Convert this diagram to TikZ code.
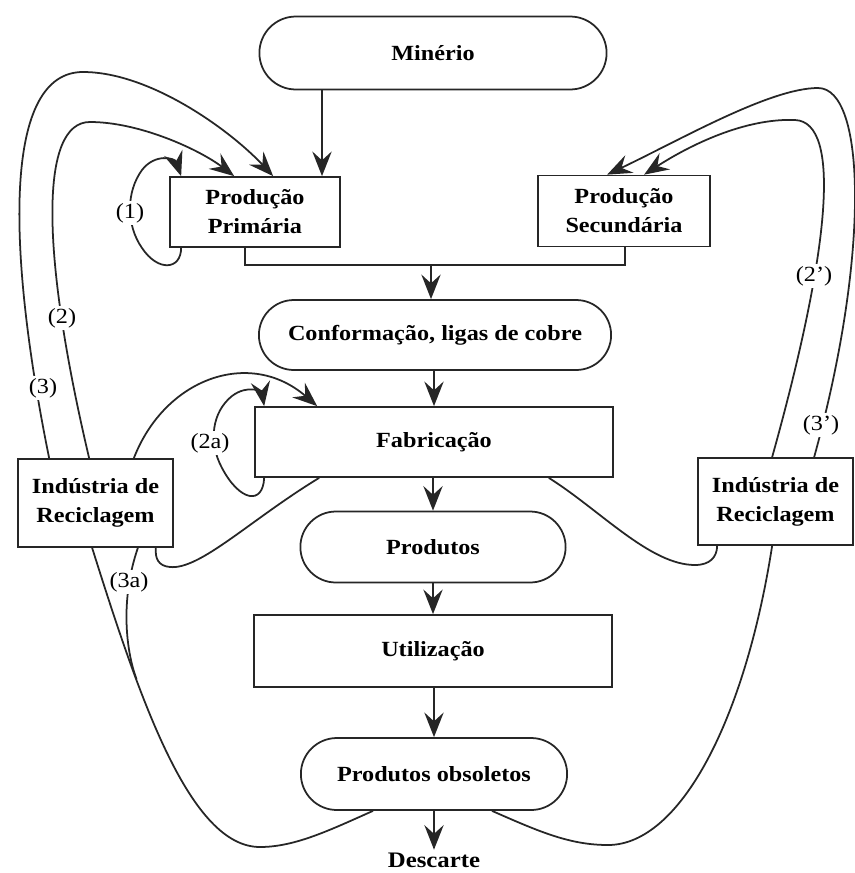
\documentclass[tikz,border=0pt]{standalone}
\usepackage{fontspec}
\setmainfont{Liberation Serif}[FakeStretch=1.12]
\usetikzlibrary{arrows.meta,shapes.misc,calc}
\begin{document}
\begin{tikzpicture}[x=0.02cm,y=-0.02cm,
  every node/.style={font=\fontsize{12.3}{16.5}\selectfont},
  box/.style={draw=black!85, line width=1pt, font=\fontsize{12.3}{16.5}\selectfont\bfseries, align=center},
  rbox/.style={box, rectangle},
  pill/.style={box, rounded rectangle},
  arr/.style={draw=black!85, line width=1pt, -{Stealth[length=14pt,width=11pt,inset=5pt]}},
  con/.style={draw=black!85, line width=1pt},
  lab/.style={fill=white, inner sep=1pt, font=\fontsize{12.3}{14}\selectfont}
]
\fill[white] (0,0) rectangle (855,873);
\useasboundingbox (0,0) rectangle (855,873);

% nodes
\node[pill, minimum width=7.18cm, minimum height=1.46cm] (min) at (433,53) {Minério};
\node[rbox, minimum width=3.4cm, minimum height=1.4cm] (pp) at (255,212) {Produção\\Primária};
\node[rbox, minimum width=3.44cm, minimum height=1.42cm] (ps) at (624,211) {Produção\\Secundária};
\node[pill, minimum width=7.28cm, minimum height=1.4cm] (conf) at (435,335) {Conformação, ligas de cobre};
\node[rbox, minimum width=7.16cm, minimum height=1.4cm] (fab) at (434,442) {Fabricação};
\node[pill, minimum width=5.54cm, minimum height=1.42cm] (prod) at (433,547) {Produtos};
\node[rbox, minimum width=7.16cm, minimum height=1.44cm] (util) at (433,651) {Utilização};
\node[pill, minimum width=5.56cm, minimum height=1.44cm] (obs) at (434,774) {Produtos obsoletos};
\node[font=\fontsize{12.6}{14}\selectfont\bfseries, inner xsep=1.5pt, inner ysep=1.5pt] (desc) at (434,860) {Descarte};
\node[rbox, minimum width=3.1cm, minimum height=1.76cm] (ir1) at (95.5,503) {Indústria de\\Reciclagem};
\node[rbox, minimum width=3.1cm, minimum height=1.74cm] (ir2) at (775.5,501.5) {Indústria de\\Reciclagem};

% main flow
\coordinate (mx) at (322,0);
\draw[arr] (min.south -| mx) -- (pp.north -| mx);
\coordinate (j1) at (245,265);
\coordinate (j2) at (625,265);
\coordinate (j3) at (431,265);
\draw[con] (pp.south -| j1) -- (j1) -- (j2) -- (ps.south -| j2);
\draw[arr] (j3) -- (conf.north -| j3);
\draw[arr] (conf.south -| fab.north) -- (fab.north);
\draw[arr] (fab.south -| prod.north) -- (prod.north);
\draw[arr] (prod.south) -- (util.north);
\draw[arr] (util.south -| obs.north) -- (obs.north);
\draw[arr] (obs.south -| desc.north) -- (desc.north);

% loop (1)
\draw[arr] ($(pp.south west)+(12,0)$) .. controls (181,270) and (158,272) .. (142,248)
  .. controls (126,225) and (126,192) .. (142,170)
  .. controls (155,153) and (175,158) .. ($(pp.north west)+(12,0)$);
\node[lab] (l1) at (130,213) {(1)};

% (2) and (3) to Producao Primaria
\draw[arr] ($(ir1.north west)+(72,0)$) .. controls (40,250) and (40,122) .. (90,122)
  .. controls (140,122) and (200,150) .. ($(pp.north west)+(65,0)$);
\draw[arr] ($(ir1.north west)+(32,0)$) .. controls (5,240) and (5,72) .. (83,72)
  .. controls (150,72) and (230,130) .. ($(pp.north west)+(104,0)$);
\node[lab] (l2) at (62,318) {(2)};
\node[lab] (l3) at (43,388) {(3)};

% (2a)
\draw[arr] ($(ir1.north east)+(-40,0)$) .. controls (165,378) and (250,348) .. ($(fab.north west)+(63,0)$);
\draw[arr] ($(fab.south west)+(10,0)$) .. controls (263,505) and (240,502) .. (222,468)
  .. controls (208,442) and (212,412) .. (232,396)
  .. controls (248,384) and (262,392) .. ($(fab.north west)+(10,0)$);
\node[lab] (l2a) at (210,443) {(2a)};

% Fabricacao to recycling
\draw[con] ($(fab.south west)+(65,0)$) .. controls (250,520) and (200,570) .. (170,567)
  .. controls (158,566) and (155,558) .. ($(ir1.south east)+(-18,0)$);
\draw[con] ($(fab.south east)+(-65,0)$) .. controls (600,510) and (650,565) .. (695,565)
  .. controls (710,565) and (717,557) .. ($(ir2.south west)+(20,0)$);

% (3a) and left outer bottom
\coordinate (m3a) at (136.5,679);
\draw[con] ($(ir1.south east)+(-36,0)$) .. controls (120,600) and (126,651) .. (m3a);
\node[lab] (l3a) at (129,582) {(3a)};
\draw[con] ($(obs.south)+(-61,0)$) .. controls (330,830) and (295,847) .. (260,847)
  .. controls (190,847) and (140,700) .. ($(ir1.south west)+(75,0)$);

% right outer bottom
\draw[con] ($(obs.south)+(58,0)$) .. controls (540,832) and (570,845) .. (608,845)
  .. controls (680,845) and (745,720) .. ($(ir2.south west)+(75,0)$);

% (2') and (3') to Producao Secundaria
\draw[arr] ($(ir2.north west)+(75,0)$) .. controls (830,250) and (842,122) .. (795,120)
  .. controls (745,118) and (690,145) .. ($(ps.north west)+(107,0)$);
\draw[arr] ($(ir2.north west)+(117,0)$) .. controls (870,255) and (866,88) .. (818,88)
  .. controls (770,88) and (680,140) .. ($(ps.north west)+(70,0)$);
\node[lab] (l2p) at (814,276) {(2')};
\node[lab] (l3p) at (821,425) {(3')};
\end{tikzpicture}
\end{document}
